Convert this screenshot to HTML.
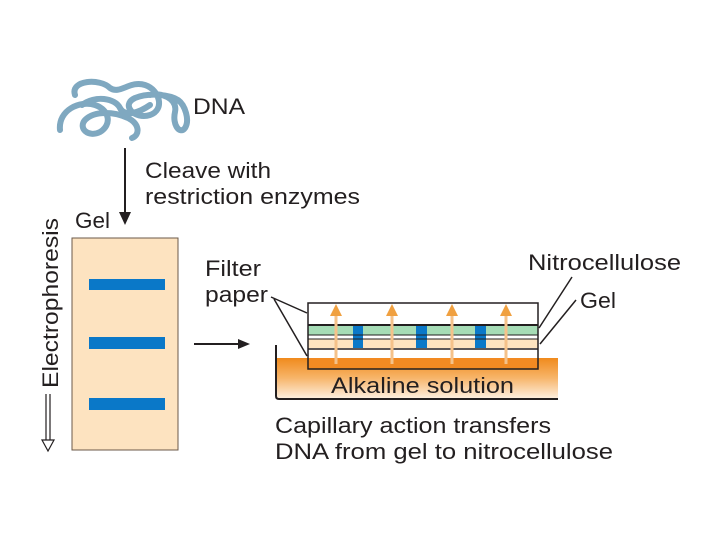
<!DOCTYPE html>
<html><head><style>
body{margin:0;background:#fff;}
svg text{font-family:"Liberation Sans",sans-serif;fill:#231f20;}
</style></head><body>
<svg width="720" height="540" viewBox="0 0 720 540" xmlns="http://www.w3.org/2000/svg">
<defs>
<linearGradient id="sol" x1="0" y1="0" x2="0" y2="1">
<stop offset="0" stop-color="#f08a1c"/><stop offset="0.5" stop-color="#f7b56a"/><stop offset="1" stop-color="#fdeedd"/>
</linearGradient>
</defs>
<g fill="none" stroke="#7fa8c0" stroke-width="6" stroke-linecap="round">
<path d="M75 95 C70 80 100 78 110 88 C120 95 130 80 145 85 C160 90 165 110 150 115 C135 120 120 105 135 98 C150 92 170 95 178 100 C185 105 190 120 185 128 C180 135 172 125 175 112 C178 98 160 92 150 95"/>
<path d="M60 130 C58 110 80 100 95 105 C110 110 112 125 100 132 C88 138 78 128 85 120 C95 110 115 112 128 118 C140 124 140 135 132 138"/>
<path d="M82 105 C95 95 115 98 120 108 C125 118 140 112 150 105"/>
</g>
<text x="193" y="114" font-size="22" textLength="52" lengthAdjust="spacingAndGlyphs">DNA</text>
<line x1="125" y1="148" x2="125" y2="214" stroke="#231f20" stroke-width="2"/>
<polygon points="119,212 131,212 125,225" fill="#231f20"/>
<text x="145" y="178" font-size="22" textLength="126" lengthAdjust="spacingAndGlyphs">Cleave with</text>
<text x="145" y="204" font-size="22" textLength="215" lengthAdjust="spacingAndGlyphs">restriction enzymes</text>
<text x="75" y="228" font-size="22" textLength="35" lengthAdjust="spacingAndGlyphs">Gel</text>
<text transform="translate(58,388) rotate(-90)" font-size="22" textLength="170" lengthAdjust="spacingAndGlyphs">Electrophoresis</text>
<path d="M46 394 V441 M50 394 V441" stroke="#231f20" stroke-width="1.2"/>
<polygon points="42,440 54,440 48,451" fill="#fff" stroke="#231f20" stroke-width="1.2"/>
<rect x="72" y="238" width="106" height="212" fill="#fde3c0" stroke="#6b5a4a" stroke-width="1"/>
<rect x="89" y="279" width="76" height="11" fill="#0a78c8"/>
<rect x="89" y="337" width="76" height="12" fill="#0a78c8"/>
<rect x="89" y="398" width="76" height="12" fill="#0a78c8"/>
<line x1="194" y1="344" x2="240" y2="344" stroke="#231f20" stroke-width="2"/>
<polygon points="238,339 250,344 238,349" fill="#231f20"/>
<text x="205" y="276" font-size="22" textLength="56" lengthAdjust="spacingAndGlyphs">Filter</text>
<text x="205" y="302" font-size="22" textLength="63" lengthAdjust="spacingAndGlyphs">paper</text>
<rect x="276" y="358" width="282" height="40" fill="url(#sol)"/>
<path d="M276 345 V396 Q276 399 279 399 H558" fill="none" stroke="#231f20" stroke-width="2"/>
<text x="331" y="393" font-size="22" textLength="183" lengthAdjust="spacingAndGlyphs">Alkaline solution</text>
<rect x="308" y="303" width="230" height="66" fill="#fff"/>
<rect x="308" y="358" width="230" height="11" fill="#f28a22"/>
<rect x="308" y="325" width="230" height="10" fill="#a6dcb6"/>
<rect x="308" y="339" width="230" height="9" fill="#fde3c0"/>
<g fill="#0a78c8">
<rect x="353" y="325" width="10" height="23"/><rect x="416" y="325" width="11" height="23"/><rect x="475" y="325" width="11" height="23"/>
</g>
<g fill="none" stroke="#231f20">
<rect x="308" y="303" width="230" height="66" stroke-width="1.5"/>
<line x1="308" y1="325" x2="538" y2="325" stroke-width="2"/>
<line x1="308" y1="335" x2="538" y2="335" stroke-width="1"/>
<line x1="308" y1="339" x2="538" y2="339" stroke-width="1"/>
<line x1="308" y1="349" x2="538" y2="349" stroke-width="1.5"/>
</g>
<g stroke="#f5c28a" stroke-width="3">
<line x1="336" y1="364" x2="336" y2="312"/><line x1="392" y1="364" x2="392" y2="312"/><line x1="452" y1="364" x2="452" y2="312"/><line x1="506" y1="364" x2="506" y2="312"/>
</g>
<g fill="#f0a040">
<polygon points="330,316 342,316 336,304"/><polygon points="386,316 398,316 392,304"/><polygon points="446,316 458,316 452,304"/><polygon points="500,316 512,316 506,304"/>
</g>
<g stroke="#231f20" stroke-width="1.5">
<line x1="271" y1="297" x2="307" y2="313"/>
<line x1="274" y1="299" x2="307" y2="356"/>
<line x1="572" y1="277" x2="539" y2="328"/>
<line x1="576" y1="300" x2="540" y2="344"/>
</g>
<text x="528" y="270" font-size="22" textLength="153" lengthAdjust="spacingAndGlyphs">Nitrocellulose</text>
<text x="580" y="308" font-size="22" textLength="36" lengthAdjust="spacingAndGlyphs">Gel</text>
<text x="275" y="433" font-size="22" textLength="276" lengthAdjust="spacingAndGlyphs">Capillary action transfers</text>
<text x="275" y="459" font-size="22" textLength="338" lengthAdjust="spacingAndGlyphs">DNA from gel to nitrocellulose</text>
</svg>
</body></html>
